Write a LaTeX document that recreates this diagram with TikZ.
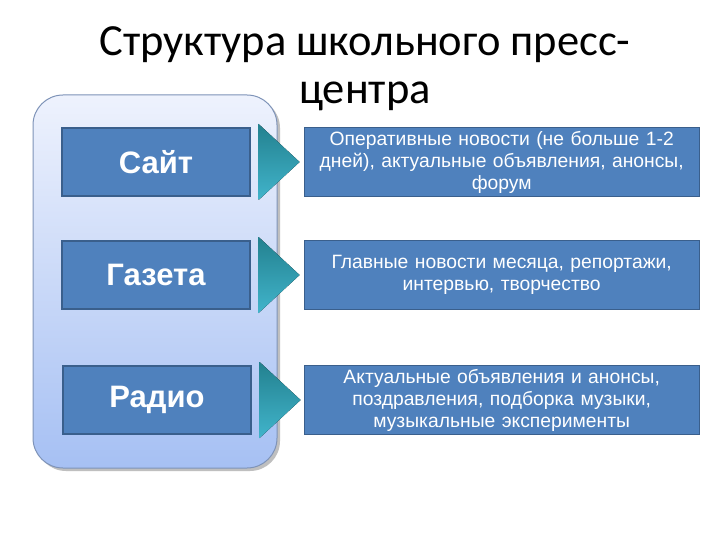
\documentclass[tikz,border=0pt]{standalone}
\usepackage{fontspec}
\setmainfont{Liberation Sans}
\newfontfamily\titlefont{Carlito}
\usetikzlibrary{positioning}
\usetikzlibrary{calc}
\definecolor{boxblue}{HTML}{4F81BD}
\definecolor{boxline}{HTML}{3A5F8C}
\definecolor{paneltop}{HTML}{EEF2FD}
\definecolor{panelbottom}{HTML}{A6C0F3}
\definecolor{panelline}{HTML}{7E93B8}
\definecolor{tealdark}{HTML}{23818F}
\definecolor{teallight}{HTML}{41B4CB}

\begin{document}
\begin{tikzpicture}[x=1pt,y=-1pt,
    kind/.style={draw=boxline, fill=boxblue, line width=1.2pt,
        minimum width=188pt, minimum height=68pt, text=white,
        font=\fontsize{31}{35}\selectfont\bfseries},
    about/.style={draw=boxline, fill=boxblue, line width=1.2pt,
        minimum width=395pt, minimum height=69pt, text=white,
        align=center, text width=392pt, inner sep=0pt,
        font=\fontsize{19.3}{22}\selectfont}]

    \useasboundingbox (0,0) rectangle (720,540);
    \fill[white] (0,0) rectangle (720,540);

    % title
    \node[align=center, font=\titlefont\fontsize{44.5}{48}\selectfont] (title)
        at (365,69) {Структура школьного пресс-\\центра};

    % panel behind the three kinds
    \fill[black!25, rounded corners=30pt] (36,98) rectangle (280,471);
    \draw[panelline, line width=1pt, rounded corners=30pt,
        top color=paneltop, bottom color=panelbottom] (33,95) rectangle (277,468);

    \node[kind] (site) at (156,162) {Сайт};
    \node[kind] (paper) at (156,275) {Газета};
    \node[kind] (radio) at (157,400) {Радио};

    \node[about, right=53pt of site] (siteinfo)
        {Оперативные новости (не больше 1-2\\дней), актуальные объявления, анонсы,\\форум};
    \node[about, right=53pt of paper] (paperinfo)
        {Главные новости месяца, репортажи,\\интервью, творчество};
    \node[about, right=52pt of radio] (radioinfo)
        {Актуальные объявления и анонсы,\\поздравления, подборка музыки,\\музыкальные эксперименты};

    \foreach \n in {site,paper,radio} {
        \fill[top color=tealdark, bottom color=teallight]
            ($(\n.east)+(8,-38)$) -- ($(\n.east)+(49,0)$) -- ($(\n.east)+(8,38)$) -- cycle;
    }
\end{tikzpicture}
\end{document}
